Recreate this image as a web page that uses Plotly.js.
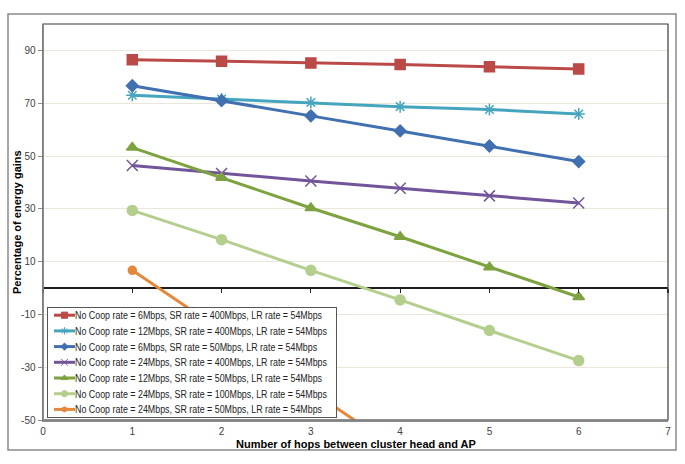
<!DOCTYPE html>
<html>
<head>
<meta charset="utf-8">
<script src="https://cdn.plot.ly/plotly-3.0.1.min.js"></script>
<style>html,body{margin:0;padding:0;background:#fff;}#chart{width:685px;height:464px;}</style>
</head>
<body>
<div id="chart"></div>
<script>
const hops = [1, 2, 3, 4, 5, 6];
const seriesNames = [
  "No Coop rate = 6Mbps, SR rate = 400Mbps, LR rate = 54Mbps",
  "No Coop rate = 12Mbps, SR rate = 400Mbps, LR rate = 54Mbps",
  "No Coop rate = 6Mbps, SR rate = 50Mbps, LR rate = 54Mbps",
  "No Coop rate = 24Mbps, SR rate = 400Mbps, LR rate = 54Mbps",
  "No Coop rate = 12Mbps, SR rate = 50Mbps, LR rate = 54Mbps",
  "No Coop rate = 24Mbps, SR rate = 100Mbps, LR rate = 54Mbps",
  "No Coop rate = 24Mbps, SR rate = 50Mbps, LR rate = 54Mbps"
];
const coop6_sr400 = [86.5, 85.9, 85.2, 84.7, 83.8, 83.0];
const coop12_sr400 = [73.0, 71.6, 70.3, 68.7, 67.6, 65.9];
const coop6_sr50 = [76.6, 71.0, 65.2, 59.5, 53.8, 47.9];
const coop24_sr400 = [46.4, 43.4, 40.5, 37.8, 34.9, 32.2];
const coop12_sr50 = [53.2, 41.8, 30.3, 19.4, 7.9, -3.4];
const coop24_sr100 = [29.4, 18.3, 6.7, -4.5, -16.1, -27.5];
const coop24_sr50 = [6.7, -16.1, -38.9, -61.7, -84.5, -107.3];
const xTicks = [0, 1, 2, 3, 4, 5, 6, 7];
const yTicks = [-50, -30, -10, 10, 30, 50, 70, 90];

const seriesValues = [coop6_sr400, coop12_sr400, coop6_sr50, coop24_sr400, coop12_sr50, coop24_sr100, coop24_sr50];
const colors = ["#BA4A47", "#45A5BE", "#4170B0", "#71549A", "#7DA340", "#B4CF8D", "#E5883C"];
const symbols = ["square", "asterisk-open", "diamond", "x-thin-open", "triangle-up", "circle", "circle"];
const sizes = [10, 10, 9, 11, 10, 10, 8];

const traces = seriesValues.map((vals, i) => ({
  type: "scatter",
  mode: "lines+markers",
  x: hops,
  y: vals,
  name: seriesNames[i],
  line: {color: colors[i], width: 3},
  marker: {symbol: symbols[i], size: sizes[i], color: colors[i], line: {color: colors[i], width: 1.5}},
  cliponaxis: true
}));
traces.push({type: "scatter", x: [], y: [], xaxis: "x2", showlegend: false, hoverinfo: "skip"});

const layout = {
  width: 685, height: 464,
  margin: {l: 43, r: 17, t: 24, b: 44},
  paper_bgcolor: "#ffffff",
  plot_bgcolor: "#ffffff",
  showlegend: true,
  font: {family: "Liberation Sans, Arial, sans-serif", size: 10, color: "#404040"},
  xaxis: {
    range: [0, 7], tickvals: xTicks, ticktext: xTicks.map(String),
    showgrid: false, zeroline: false,
    showline: true, linecolor: "#8c8c8c", linewidth: 1.5, mirror: false,
    ticks: "outside", ticklen: 1, tickcolor: "rgba(0,0,0,0)",
    tickfont: {size: 10, color: "#404040"}
  },
  xaxis2: {
    overlaying: "x", matches: "x", anchor: "free", position: 50 / 150,
    range: [0, 7], tickvals: xTicks, showticklabels: false,
    showgrid: false, zeroline: false, showline: false,
    ticks: "outside", ticklen: 4, tickcolor: "#222", tickwidth: 1.2
  },
  yaxis: {
    range: [-50, 100], tickvals: yTicks, ticktext: yTicks.map(String),
    showgrid: true, gridcolor: "#e9e6da", gridwidth: 1,
    zeroline: true, zerolinecolor: "#1e1e1e", zerolinewidth: 1.6,
    showline: true, linecolor: "#8c8c8c", linewidth: 1.5,
    ticks: "outside", ticklen: 4, tickcolor: "#8c8c8c",
    tickfont: {size: 10, color: "#404040"}
  },
  legend: {
    x: 4 / 625, y: (420 - 307) / 396, xanchor: "left", yanchor: "top",
    bgcolor: "#ffffff", bordercolor: "#555555", borderwidth: 1,
    font: {family: "Liberation Sans, Arial, sans-serif", size: 10, color: "#222"},
    tracegroupgap: 0, itemwidth: 30
  },
  shapes: [
    {type: "rect", xref: "paper", yref: "paper", x0: 0, x1: 1, y0: 0, y1: 1,
     line: {color: "#3a3a3a", width: 1.2}, layer: "above"},
    {type: "line", xref: "paper", yref: "paper", x0: 0, x1: 1, y0: 0, y1: 0,
     line: {color: "#8c8c8c", width: 1.5}, layer: "above"},
    {type: "line", xref: "paper", yref: "paper", x0: 0, x1: 0, y0: 0, y1: 1,
     line: {color: "#8c8c8c", width: 1.5}, layer: "above"},
    {type: "rect", xref: "paper", yref: "paper",
     x0: (8 - 43) / 625, x1: (676 - 43) / 625, y0: (420 - 450) / 396, y1: (420 - 14) / 396,
     line: {color: "#8a8a8a", width: 1.5}, layer: "below"}
  ],
  annotations: [
    {text: "<b>Percentage of energy gains</b>", xref: "paper", yref: "paper",
     x: (17 - 43) / 625, y: 0.5, xanchor: "center", yanchor: "middle", textangle: -90,
     showarrow: false, font: {family: "Liberation Sans, Arial, sans-serif", size: 11, color: "#000"}},
    {text: "<b>Number of hops between cluster head and AP</b>", xref: "paper", yref: "paper",
     x: 0.5, y: (420 - 444) / 396, xanchor: "center", yanchor: "middle",
     showarrow: false, font: {family: "Liberation Sans, Arial, sans-serif", size: 11, color: "#000"}}
  ]
};

// Compact the legend rows to match the reference spacing (Plotly enforces a 19px minimum row height)
function tidyLegend(gd) {
  const leg = gd.querySelector(".legend");
  if (!leg) return;
  const rowH = 15.7, top = 8.2, textX = 28, boxW = 290, boxH = 111, targetText = 252;
  const items = leg.querySelectorAll(".traces");
  let maxLen = 0;
  items.forEach(g => {
    const t = g.querySelector(".legendtext");
    if (t) maxLen = Math.max(maxLen, t.getComputedTextLength());
  });
  const f = maxLen > 0 ? targetText / maxLen : 1;
  items.forEach((g, i) => {
    g.setAttribute("transform", "translate(0," + (top + i * rowH) + ")");
    const t = g.querySelector(".legendtext");
    if (t) {
      const len = t.getComputedTextLength();
      t.setAttribute("x", textX);
      t.setAttribute("textLength", (len * f).toFixed(2));
      t.setAttribute("lengthAdjust", "spacingAndGlyphs");
    }
    g.querySelectorAll(".js-line").forEach(p => p.setAttribute("d", "M7,0h21"));
    g.querySelectorAll(".legendpoints path").forEach(p => p.setAttribute("transform", "translate(17.5,0) scale(0.62)"));
  });
  const bg = leg.querySelector("rect.bg");
  if (bg) { bg.setAttribute("width", boxW - 1); bg.setAttribute("height", boxH - 1); }
  const sb = leg.querySelector(".scrollbox");
  if (sb) sb.removeAttribute("clip-path");
}

Plotly.newPlot("chart", traces, layout, {staticPlot: true, displayModeBar: false}).then(gd => tidyLegend(gd));
</script>
</body>
</html>
